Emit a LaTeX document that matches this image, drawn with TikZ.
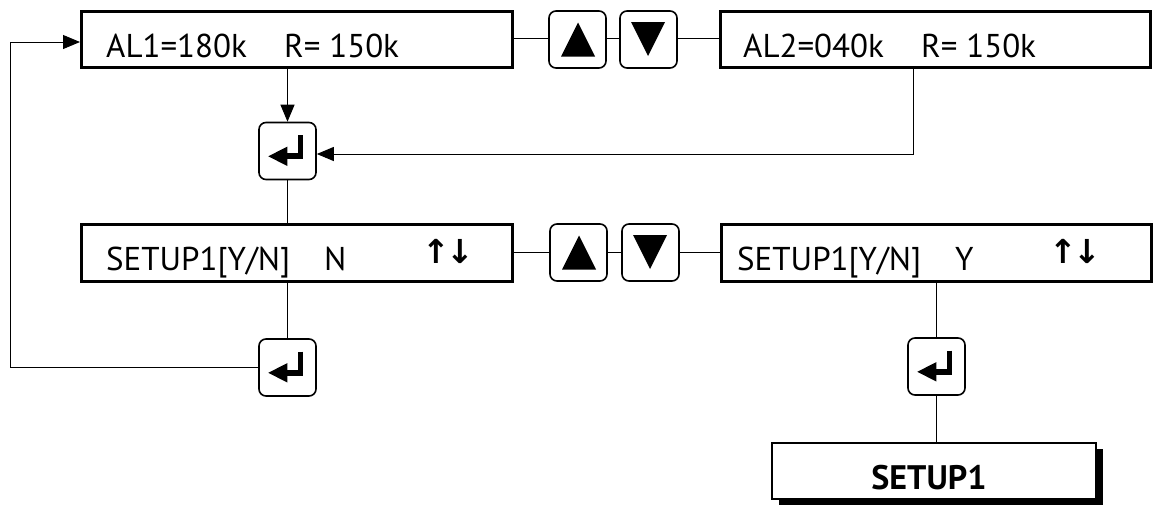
\documentclass[tikz,border=0pt]{standalone}
\usepackage{fontspec}
\setmainfont{PT Sans}
\newfontfamily\symfont{DejaVu Sans}
\usetikzlibrary{arrows.meta,shadows}
\tikzset{
  lcd/.style={draw, line width=3pt, minimum width=431pt, minimum height=56pt, inner sep=0pt},
  keybox/.style={draw, line width=1.6pt, rounded corners=7pt, minimum size=57pt, inner sep=0pt},
  txt/.style={font=\fontsize{33}{33}\selectfont, inner sep=0pt, anchor=base west},
  arrtxt/.style={font=\symfont\bfseries\fontsize{33}{33}\selectfont, inner sep=0pt, anchor=base west},
  conn/.style={line width=1pt},
  arr/.style={line width=1pt, -{Triangle[length=17pt,width=14pt]}},
  enterstroke/.style={line width=5.7pt, miter limit=10},
}
\newcommand\enterglyph[1]{%
  \draw[enterstroke] ([shift={(13,-16)}]#1.center) -- ++(0,21.3) -- ++(-14,0);
  \fill ([shift={(-19.2,5.3)}]#1.center) -- ++(19,-9.7) -- ++(0,19.4) -- cycle;}
\newcommand\upglyph[1]{\fill ([shift={(0.5,-17)}]#1.center) -- ++(17,34) -- ++(-34,0) -- cycle;}
\newcommand\downglyph[1]{\fill ([shift={(-0.5,16.5)}]#1.center) -- ++(17,-34) -- ++(-34,0) -- cycle;}
\begin{document}
\begin{tikzpicture}[x=1pt,y=-1pt]
\useasboundingbox (0,0) rectangle (1154,507);
% row 1
\node[lcd] (b1) at (297,39.5) {};
\node[txt] (t1) at (106,57) {\makebox[178pt][l]{AL1=180k}R= 150k};
\node[keybox] (u1) at (577.5,39.5) {};
\node[keybox] (d1) at (648.5,39.5) {};
\node[lcd, minimum width=430pt] (b2) at (935.5,39.5) {};
\node[txt] (t2) at (743,57) {\makebox[178pt][l]{AL2=040k}R= 150k};
\upglyph{u1}\downglyph{d1}
% enter 1
\node[keybox] (e1) at (287.5,151) {};
\enterglyph{e1}
% row 2
\node[lcd, minimum height=57pt] (b3) at (297,253) {};
\node[txt] (t3) at (106,270) {\makebox[218pt][l]{SETUP1[Y/N]}N};
\node[arrtxt] (a3) at (422,263) {↑\kern-3pt↓};
\node[keybox] (u2) at (578.5,252.5) {};
\node[keybox] (d2) at (650.5,252.5) {};
\node[lcd, minimum width=430pt, minimum height=57pt] (b4) at (936,253) {};
\node[txt] (t4) at (737,270) {\makebox[218pt][l]{SETUP1[Y/N]}Y};
\node[arrtxt] (a4) at (1049,263) {↑\kern-3pt↓};
\upglyph{u2}\downglyph{d2}
% enter 2, 3
\node[keybox] (e2) at (287.5,367.5) {};
\enterglyph{e2}
\node[keybox] (e3) at (936.5,366.5) {};
\enterglyph{e3}
% result box
\node[draw, line width=2pt, fill=white, minimum width=324pt, minimum height=56pt, inner sep=0pt,
      drop shadow={shadow xshift=7pt, shadow yshift=-6pt, opacity=1, fill=black}] (s) at (934,471) {};
\node[font=\bfseries\fontsize{34}{34}\selectfont, inner sep=0pt, anchor=base] (st) at (929,489) {SETUP1};
% connectors
\draw[conn] (b1.east |- 0,38) -- (u1.west |- 0,38);
\draw[conn] (u1.east |- 0,38) -- (d1.west |- 0,38);
\draw[conn] (d1.east |- 0,38) -- (b2.west |- 0,38);
\draw[conn] (b3.east |- 0,252) -- (u2.west |- 0,252);
\draw[conn] (u2.east |- 0,252) -- (d2.west |- 0,252);
\draw[conn] (d2.east |- 0,252) -- (b4.west |- 0,252);
\draw[arr] (b1.south -| e1) -- (e1.north);
\draw[arr] (b2.south -| 913,0) |- ([yshift=-3pt]e1.east);
\draw[conn] (e1.south) -- (b3.north -| e1);
\draw[conn] (b3.south -| e2) -- (e2.north);
\coordinate (lc) at (10,367.5);
\draw[arr] (e2.west) -- (lc) |- ([yshift=-2.5pt]b1.west);
\draw[conn] (b4.south -| e3) -- (e3.north);
\draw[conn] (e3.south) -- (s.north -| e3);
\end{tikzpicture}
\end{document}
